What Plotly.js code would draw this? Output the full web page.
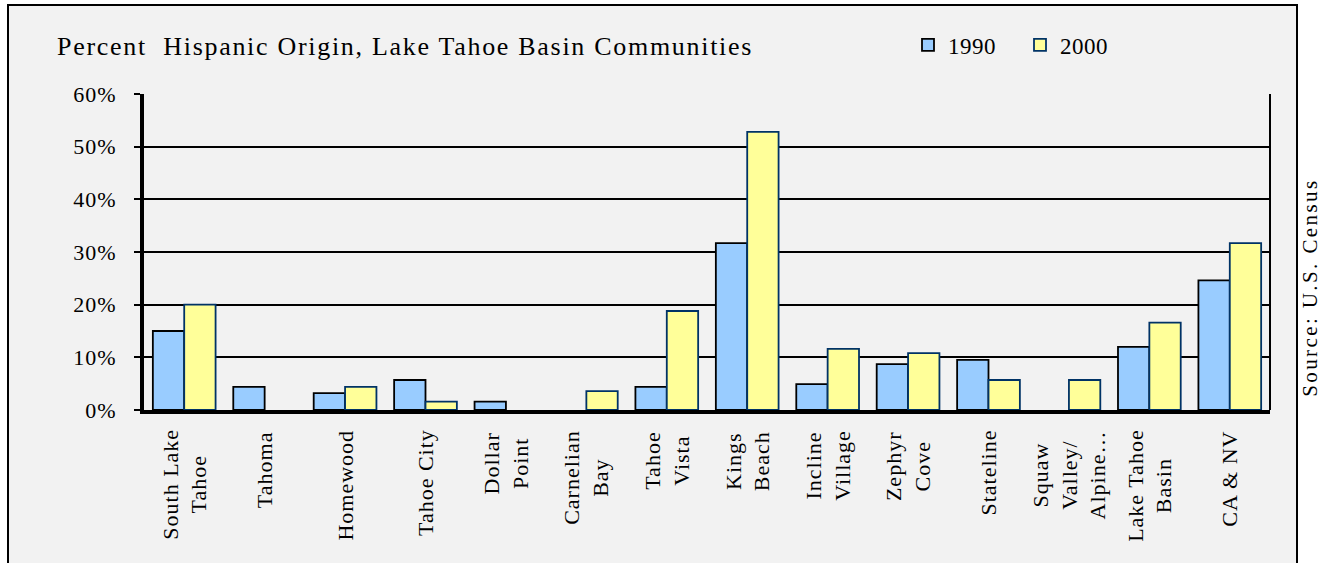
<!DOCTYPE html>
<html>
<head>
<meta charset="utf-8">
<script src="https://cdn.plot.ly/plotly-3.0.1.min.js"></script>
<style>
html,body{margin:0;padding:0;background:#ffffff;}
#chart{width:1328px;height:563px;}
#chart .gtitle{letter-spacing:1.7px;}
#chart .ytick text{letter-spacing:1px;}
#chart .legendtext{letter-spacing:0.5px;}
#chart .annotation-text{letter-spacing:1px;}
#chart .annotation[data-index="0"] .annotation-text{letter-spacing:2.4px;}
</style>
</head>
<body>
<div id="chart"></div>
<script>
const categories = [
  "South Lake<br>Tahoe", "Tahoma", "Homewood", "Tahoe City", "Dollar<br>Point",
  "Carnelian<br>Bay", "Tahoe<br>Vista", "Kings<br>Beach", "Incline<br>Village",
  "Zephyr<br>Cove", "Stateline", "Squaw<br>Valley/<br>Alpine…", "Lake Tahoe<br>Basin", "CA & NV"
];
const values1990 = [15.0, 4.4, 3.2, 5.7, 1.6, null, 4.4, 31.7, 4.9, 8.7, 9.5, null, 12.0, 24.6];
const values2000 = [20.0, null, 4.4, 1.6, null, 3.6, 18.8, 52.8, 11.6, 10.8, 5.7, 5.7, 16.6, 31.7];
const seriesNames = ["1990", "2000"];
const yTickValues = [0, 10, 20, 30, 40, 50, 60];
const yTickLabels = ["0%", "10%", "20%", "30%", "40%", "50%", "60%"];
const sourceNote = "Source: U.S. Census";

const font = "'Liberation Serif', 'Times New Roman', serif";

const traces = [
  {
    type: "bar", name: seriesNames[0], x: categories, y: values1990,
    marker: {color: "#99ccff", line: {color: "#000000", width: 1.8}}
  },
  {
    type: "bar", name: seriesNames[1], x: categories, y: values2000,
    marker: {color: "#ffff99", line: {color: "#003366", width: 1.8}}
  }
];

// plot area in pixels: x 144..1270, y 94..410
const PW = 1126, PH = 316;

const annotations = [
  {text: sourceNote, xref: "paper", yref: "paper",
   x: (1310 - 144) / PW, y: (410 - 288) / PH, xanchor: "center", yanchor: "middle",
   textangle: -90, showarrow: false, font: {family: font, size: 21, color: "#000"}}
];
categories.forEach(function (c) {
  annotations.push({
    text: c, xref: "x", yref: "paper", x: c, y: (410 - 432) / PH,
    xanchor: "center", yanchor: "top", textangle: -90, align: "center",
    showarrow: false, font: {family: font, size: 22, color: "#000"}
  });
});

const layout = {
  width: 1328, height: 563,
  paper_bgcolor: "#ffffff", plot_bgcolor: "#f2f2f2",
  margin: {l: 144, r: 58, t: 94, b: 153},
  font: {family: font, color: "#000", size: 22},
  barmode: "group", bargap: 0.22, bargroupgap: 0,
  title: {
    text: "Percent  Hispanic Origin, Lake Tahoe Basin Communities",
    font: {family: font, size: 26, color: "#000"},
    x: 57 / 1328, xanchor: "left", xref: "container",
    y: 1 - 46 / 563, yanchor: "middle", yref: "container"
  },
  showlegend: true,
  legend: {
    orientation: "h", xref: "container", yref: "container",
    x: 908 / 1328, xanchor: "left", y: 1 - 45 / 563, yanchor: "middle",
    font: {family: font, size: 23, color: "#000"},
    bgcolor: "rgba(0,0,0,0)", itemwidth: 30, traceorder: "normal",
    entrywidth: 67, entrywidthmode: "pixels"
  },
  xaxis: {
    type: "category", showline: true, linecolor: "#000", linewidth: 4,
    showgrid: false, ticks: "", showticklabels: false, zeroline: false
  },
  yaxis: {
    range: [0, 60], tickmode: "array", tickvals: yTickValues, ticktext: yTickLabels,
    showline: true, linecolor: "#000", linewidth: 4,
    showgrid: true, gridcolor: "#000", gridwidth: 2,
    ticks: "outside", ticklen: 6, tickwidth: 2, tickcolor: "#000", ticklabelstandoff: 13,
    tickfont: {family: font, size: 22, color: "#000"}, zeroline: false
  },
  shapes: [
    {type: "rect", xref: "paper", yref: "paper",
     x0: (8 - 144) / PW, x1: (1297 - 144) / PW, y0: (410 - 580) / PH, y1: (410 - 5) / PH,
     line: {color: "#000", width: 2}, fillcolor: "#f2f2f2", layer: "below"},
    {type: "line", xref: "x domain", yref: "y domain", x0: 1, x1: 1, y0: 0, y1: 1,
     line: {color: "#000", width: 2}}
  ],
  annotations: annotations
};

Plotly.newPlot("chart", traces, layout, {displayModeBar: false, staticPlot: true});
</script>
</body>
</html>
